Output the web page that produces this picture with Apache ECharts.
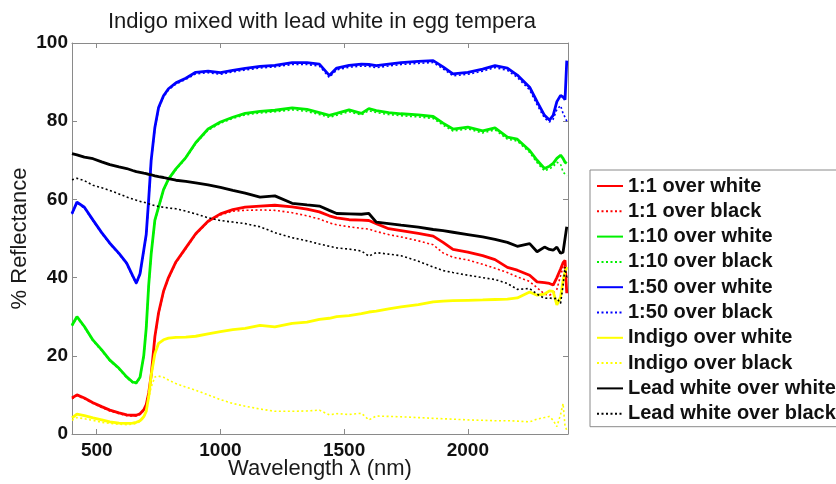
<!DOCTYPE html>
<html>
<head>
<meta charset="utf-8">
<script src="https://cdn.jsdelivr.net/npm/echarts@6/dist/echarts.min.js"></script>
<style>
html,body{margin:0;padding:0;background:#fff;}
#chart{width:836px;height:484px;}
</style>
</head>
<body>
<div id="chart"></div>
<script>
// ---- data ----
var wavelengths = [400, 420, 450, 485, 520, 553, 590, 621, 645, 660, 675, 690, 700, 710, 720, 735, 750, 770, 790, 820, 860, 900, 950, 1000, 1050, 1100, 1160, 1220, 1290, 1350, 1400, 1440, 1470, 1520, 1570, 1600, 1630, 1680, 1730, 1800, 1860, 1900, 1940, 2000, 2060, 2110, 2160, 2200, 2250, 2280, 2310, 2330, 2345, 2360, 2375, 2385, 2393, 2400];

var red_white = [9.2, 10, 9.2, 8, 7, 6.1, 5.4, 4.9, 4.8, 4.8, 5.2, 6.2, 7.5, 10.5, 15, 24.9, 31, 36.5, 40, 44, 47.6, 51.2, 54.4, 56.3, 57.4, 58, 58.3, 58.5, 58.1, 57.5, 56.8, 55.8, 55.3, 54.8, 54.7, 54.6, 53.8, 52.5, 52, 51.3, 50.6, 49, 47.2, 46.5, 45.6, 44.6, 42.6, 41.9, 40.6, 38.9, 38.7, 38.5, 38.1, 40, 42.2, 43.8, 44.4, 36];
var red_black = [9, 9.8, 9, 7.8, 6.8, 5.9, 5.2, 4.7, 4.6, 4.6, 5, 6, 7.3, 10.2, 14.6, 24.5, 30.8, 36.3, 39.8, 43.8, 47.4, 51, 54.2, 56, 57, 57.2, 57.3, 57.2, 56.6, 55.8, 55, 54, 53.5, 53, 52.6, 52.4, 51.8, 51, 50.4, 49.4, 48.4, 46.3, 45.2, 44.5, 43.4, 42.4, 41.3, 40.2, 39, 37.4, 35.8, 35.5, 36, 37, 40.5, 42.7, 43, 42];
var green_white = [27.8, 30, 27.5, 24, 21.5, 18.9, 16.8, 14.6, 13.3, 13.1, 14.5, 20, 27, 38, 46, 54.7, 58, 62.5, 65.2, 67.8, 70.7, 74.5, 78, 79.8, 81, 82, 82.5, 82.8, 83.4, 83, 82.2, 81.5, 82, 82.9, 82, 83.2, 82.7, 82.2, 81.9, 81.6, 81.2, 79.5, 78, 78.5, 77.5, 78.3, 75.9, 75.4, 72.5, 70, 67.9, 68.5, 69.2, 70.5, 71.3, 70.5, 69.5, 69.2];
var green_black = [27.6, 29.8, 27.3, 23.8, 21.3, 18.7, 16.6, 14.4, 13.1, 12.9, 14.3, 19.8, 26.8, 37.8, 45.8, 54.5, 57.8, 62.3, 65, 67.6, 70.5, 74.3, 77.7, 79.5, 80.7, 81.6, 82.1, 82.4, 82.9, 82.5, 81.7, 81, 81.5, 82.4, 81.6, 82.7, 82.2, 81.7, 81.4, 81.1, 80.7, 79, 77.5, 78, 77, 77.8, 75.4, 74.9, 72, 69.4, 67.3, 67.8, 68.4, 69.5, 69, 67, 66.5, 66];
var blue_white = [56.4, 59.3, 58, 54.7, 51.5, 48.8, 46.2, 43.7, 40.5, 38.6, 41, 47, 51, 60, 70, 78.4, 83.5, 86.5, 88.3, 89.8, 91, 92.5, 92.8, 92.4, 93, 93.5, 94, 94.3, 95, 95, 94.6, 91.7, 93.6, 94.3, 94.6, 94.5, 94.2, 94.6, 95, 95.3, 95.5, 93.9, 92.1, 92.5, 93.3, 94.2, 93.6, 91.8, 88.7, 85, 81.5, 80.3, 81.5, 85, 86.6, 86.2, 85.5, 95.5];
var blue_black = [56.2, 59.1, 57.8, 54.5, 51.3, 48.6, 46, 43.5, 40.3, 38.4, 40.8, 46.8, 50.8, 59.8, 69.8, 78.1, 83.2, 86.2, 88, 89.5, 90.7, 92.1, 92.4, 92, 92.6, 93.1, 93.6, 93.9, 94.5, 94.5, 94.1, 91.2, 93.1, 93.8, 94.1, 94, 93.7, 94.1, 94.5, 94.8, 95, 93.4, 91.6, 92, 92.8, 93.7, 93, 91.2, 88, 84.2, 80.8, 79.8, 80.5, 83, 84, 82, 81, 80];
var indigo_white = [4.1, 5.1, 4.7, 4.1, 3.6, 3.1, 2.8, 2.7, 2.8, 3, 3.4, 4.4, 5.8, 9.5, 15, 20.5, 23.2, 24.1, 24.5, 24.7, 24.8, 25, 25.6, 26.2, 26.7, 27, 27.8, 27.4, 28.3, 28.6, 29.3, 29.6, 30, 30.3, 30.8, 31.2, 31.4, 32, 32.5, 33.1, 33.8, 34, 34.1, 34.2, 34.3, 34.4, 34.5, 34.8, 36.3, 35.5, 35.8, 36.6, 36.5, 33, 35, 39.3, 41.5, 42.7];
var indigo_black = [3.5, 4.2, 3.9, 3.5, 3, 2.7, 2.5, 2.4, 2.5, 2.7, 3.2, 4.2, 5.5, 9, 12, 14.6, 14.8, 14.5, 13.8, 12.9, 12, 11.2, 10, 8.8, 7.8, 7.1, 6.4, 5.8, 5.8, 5.9, 6.1, 4.9, 5.2, 5, 5.3, 3.6, 4.6, 4.5, 4.4, 4.2, 4, 3.9, 3.8, 3.6, 3.5, 3.4, 3.4, 3.3, 3.1, 3.8, 4.2, 4.5, 3.5, 1.9, 5, 7.8, 2, 1];
var lead_white = [71.7, 71.4, 70.8, 70.4, 69.6, 68.9, 68.3, 67.9, 67.4, 67.1, 66.9, 66.7, 66.6, 66.4, 66.3, 66, 65.8, 65.6, 65.3, 64.9, 64.6, 64.2, 63.7, 63.1, 62.3, 61.6, 60.6, 60.9, 59, 58.6, 58.3, 57.2, 56.4, 56.3, 56.2, 56.4, 54.2, 53.8, 53.4, 52.9, 52.3, 52, 51.6, 51, 50.4, 49.8, 49, 48, 48.7, 46.6, 47.8, 47.2, 47, 47.8, 46.2, 46.5, 47, 53];
var lead_black = [65, 65.4, 64.8, 63.6, 63, 62.3, 61.4, 60.6, 60.1, 59.8, 59.5, 59.3, 59.1, 58.9, 58.7, 58.4, 58.2, 58, 57.8, 57.6, 57, 56.3, 55.3, 54.6, 54.2, 53.8, 53, 51.5, 50.2, 49.4, 48.6, 48, 47.6, 47.3, 46.8, 45.5, 46.4, 46, 45.6, 44.2, 42.7, 41.8, 41.3, 40.6, 40, 39.5, 38.5, 37, 37.2, 35.8, 34.7, 34.8, 34.6, 34.7, 33.4, 38, 42.7, 40];

var seriesNames = ['1:1 over white', '1:1 over black', '1:10 over white', '1:10 over black', '1:50 over white', '1:50 over black', 'Indigo over white', 'Indigo over black', 'Lead white over white', 'Lead white over black'];
var seriesValues = [red_white, red_black, green_white, green_black, blue_white, blue_black, indigo_white, indigo_black, lead_white, lead_black];
var seriesColors = ['#ff0000', '#ff0000', '#00f000', '#00f000', '#0000ff', '#0000ff', '#ffff00', '#ffff00', '#000000', '#000000'];
var xTicks = [500, 1000, 1500, 2000];

// ---- chart ----
var FONT = '"Liberation Sans", Arial, sans-serif';
var chart = echarts.init(document.getElementById('chart'), null, {renderer: 'canvas'});

var series = seriesNames.map(function (name, i) {
  var dotted = (i % 2 === 1);
  return {
    name: name,
    type: 'line',
    xAxisIndex: 0,
    yAxisIndex: 0,
    symbol: 'none',
    smooth: false,
    color: seriesColors[i],
    lineStyle: {
      color: seriesColors[i],
      width: dotted ? 1.6 : 2.8,
      type: dotted ? [2, 2.5] : 'solid'
    },
    data: wavelengths.map(function (w, k) { return [w, seriesValues[i][k]]; })
  };
});

var axisColor = '#8a8a8a';

var option = {
  animation: false,
  backgroundColor: '#ffffff',
  title: {
    text: 'Indigo mixed with lead white in egg tempera',
    left: 317,
    textAlign: 'center',
    top: 6,
    textStyle: {fontFamily: FONT, fontSize: 22, fontWeight: 'normal', color: '#1a1a1a'}
  },
  legend: {
    orient: 'vertical',
    left: 590,
    top: 170,
    padding: [6, 40, 3, 6],
    itemWidth: 26,
    itemHeight: 14,
    itemGap: 5.3,
    borderColor: '#8a8a8a',
    borderWidth: 1,
    backgroundColor: '#ffffff',
    itemStyle: {opacity: 0},
    textStyle: {fontFamily: FONT, fontSize: 20, fontWeight: 'bold', color: '#111', lineHeight: 20},
    data: seriesNames
  },
  grid: {left: 72, right: 268, top: 43, bottom: 50, containLabel: false, outerBoundsMode: 'none'},
  xAxis: [{
    type: 'value',
    position: 'bottom',
    min: 400,
    max: 2405,
    name: 'Wavelength \u03bb (nm)',
    nameLocation: 'middle',
    nameGap: 24,
    nameMoveOverlap: false,
    nameTextStyle: {fontFamily: FONT, fontSize: 22, color: '#1a1a1a', verticalAlign: 'top'},
    axisLine: {show: true, onZero: false, lineStyle: {color: axisColor, width: 1}},
    axisTick: {show: true, inside: true, length: 5, customValues: xTicks, lineStyle: {color: axisColor}},
    axisLabel: {show: true, customValues: xTicks, margin: 7, fontFamily: FONT, fontSize: 19, fontWeight: 'bold', color: '#111',
      formatter: function (v) { return String(v); }},
    splitLine: {show: false}
  }, {
    type: 'value',
    position: 'top',
    min: 400,
    max: 2405,
    axisLine: {show: true, onZero: false, lineStyle: {color: axisColor, width: 1}},
    axisTick: {show: true, inside: true, length: 5, customValues: xTicks, lineStyle: {color: axisColor}},
    axisLabel: {show: false, customValues: xTicks},
    splitLine: {show: false}
  }],
  yAxis: [{
    type: 'value',
    position: 'left',
    min: 0,
    max: 100,
    interval: 20,
    name: '% Reflectance',
    nameLocation: 'middle',
    nameGap: 41,
    nameMoveOverlap: false,
    nameRotate: 90,
    nameTextStyle: {fontFamily: FONT, fontSize: 22, color: '#1a1a1a'},
    axisLine: {show: true, onZero: false, lineStyle: {color: axisColor, width: 1}},
    axisTick: {show: true, inside: true, length: 5, lineStyle: {color: axisColor}},
    axisLabel: {show: true, margin: 4, fontFamily: FONT, fontSize: 19, fontWeight: 'bold', color: '#111'},
    splitLine: {show: false}
  }, {
    type: 'value',
    position: 'right',
    min: 0,
    max: 100,
    interval: 20,
    axisLine: {show: true, onZero: false, lineStyle: {color: axisColor, width: 1}},
    axisTick: {show: true, inside: true, length: 5, lineStyle: {color: axisColor}},
    axisLabel: {show: false},
    splitLine: {show: false}
  }],
  series: series
};
chart.setOption(option);
</script>
</body>
</html>
